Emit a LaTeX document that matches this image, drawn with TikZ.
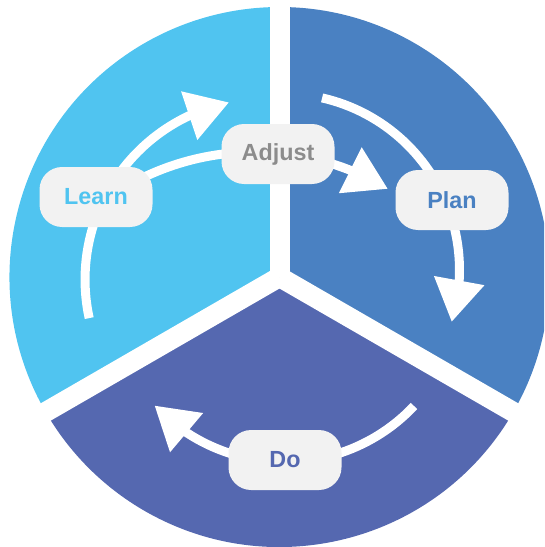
\documentclass[tikz,border=0pt]{standalone}
\usepackage{fontspec}
\setmainfont{Liberation Sans}
\usetikzlibrary{arrows.meta,bending}

\definecolor{learnblue}{HTML}{50C4F0}
\definecolor{planblue}{HTML}{4A81C2}
\definecolor{doblue}{HTML}{5568B0}
\definecolor{boxgrey}{HTML}{F2F2F2}
\definecolor{adjgrey}{HTML}{8C8C8C}

\tikzset{every picture/.style={line width=0.75pt}}
\tikzset{
  stagebox/.style={fill=boxgrey, rounded corners=17pt, minimum width=84.75pt, minimum height=45pt, inner sep=0pt, font=\bfseries\fontsize{17.5}{20}\selectfont},
  flow/.style={draw=white, line width=6.75pt, -{Triangle[length=31.5pt,width=36.6pt]}},
  gapline/.style={draw=white, line width=15pt}
}

\begin{document}
\begin{tikzpicture}[x=0.75pt,y=0.75pt,yscale=-1,xscale=1]
\useasboundingbox (0,0) rectangle (544,547);
\clip (0,0) rectangle (544,547);
\coordinate (ctr) at (279.5,277);

%Shape: Sector (Learn)
\fill[learnblue] (ctr) -- ++(150:270) arc[start angle=150, end angle=270, radius=270] -- cycle;
%Shape: Sector (Plan)
\fill[planblue] (ctr) -- ++(270:270) arc[start angle=270, end angle=390, radius=270] -- cycle;
%Shape: Sector (Do)
\fill[doblue] (ctr) -- ++(30:270) arc[start angle=30, end angle=150, radius=270] -- cycle;
%Straight Lines (gaps)
\draw[gapline] (ctr) -- ++(270:280);
\draw[gapline] (ctr) -- ++(30:280);
\draw[gapline] (ctr) -- ++(150:280);

%Curve Lines
\coordinate (learnTail) at (89.2,318.1);
\coordinate (adjustTail) at (126,186.6);
\coordinate (planTail) at (322.1,97.9);
\coordinate (doTail) at (414,406);
\draw[flow] (learnTail) arc[start angle=167.7, end angle=258.2, radius=181];
\draw[flow] (adjustTail) arc[start angle=-120, end angle=-59, radius=258];
\draw[flow] (planTail) arc[start angle=-77.2, end angle=17.1, radius=176.5];
\draw[flow] (doTail) arc[start angle=43.3, end angle=136.9, radius=178];

% Text Node
\node[stagebox, text=learnblue] (learn) at (96,197) {Learn};
% Text Node
\node[stagebox, text=adjgrey] (adjust) at (278,154) {Adjust};
% Text Node
\node[stagebox, text=planblue] (plan) at (452,200) {Plan};
% Text Node
\node[stagebox, text=doblue] (do) at (285,460) {Do};

\end{tikzpicture}
\end{document}
